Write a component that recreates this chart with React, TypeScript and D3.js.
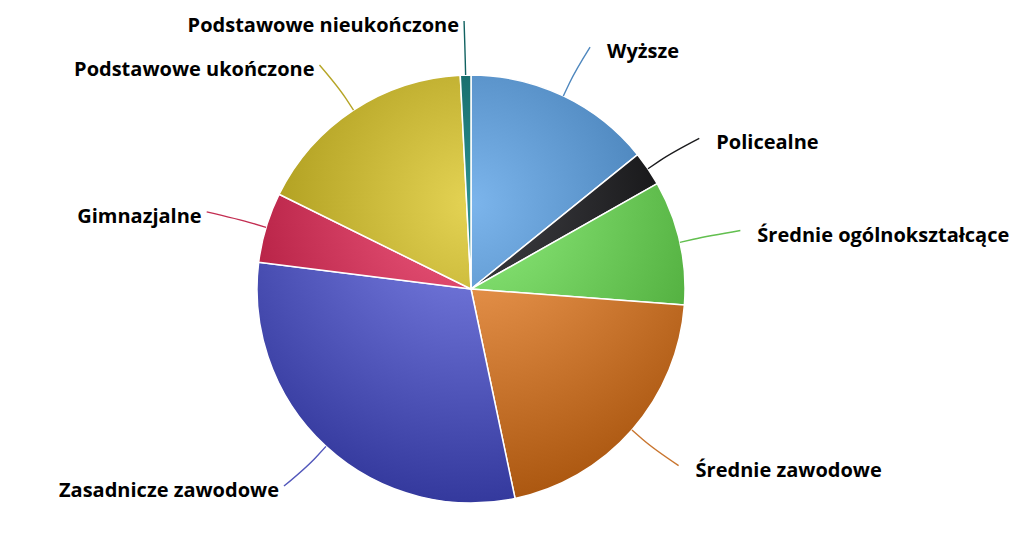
import React from "react";
import * as d3 from "d3";

const categories = [
  "Wyższe",
  "Policealne",
  "Średnie ogólnokształcące",
  "Średnie zawodowe",
  "Zasadnicze zawodowe",
  "Gimnazjalne",
  "Podstawowe ukończone",
  "Podstawowe nieukończone",
];
const shares = [14.2, 2.6, 9.4, 20.5, 30.3, 5.3, 16.9, 0.8];
const colors = [
  "#7cb5ec",
  "#434348",
  "#90ed7d",
  "#f7a35c",
  "#8085e9",
  "#f15c80",
  "#e4d354",
  "#2b908f",
];

const width = 1023;
const height = 540;
const cx = 471;
const cy = 289;
const radius = 214;

// same as Highcharts' brighten(-0.3)
const darken = (c: string) => {
  const rgb = d3.rgb(c);
  return d3.rgb(Math.max(rgb.r - 76, 0), Math.max(rgb.g - 76, 0), Math.max(rgb.b - 76, 0)).formatHex();
};

type Slice = { name: string; value: number; color: string };

const App = () => {
  const data: Slice[] = categories.map((name, i) => ({
    name,
    value: shares[i],
    color: colors[i],
  }));

  const pie = d3
    .pie<Slice>()
    .sort(null)
    .value((d) => d.value);
  const arcs = pie(data);

  const arc = d3.arc<d3.PieArcDatum<Slice>>().innerRadius(0).outerRadius(radius);

  const labelRx = radius + 62;
  const labelRy = radius + 54;

  return (
    <svg
      width={width}
      height={height}
      style={{ position: "absolute", left: 0, top: 0, background: "#fff" }}
    >
      <defs>
        {arcs.map((a, i) => (
          // gradient box is the pie's bounding square, in the group's local space
          <radialGradient
            key={i}
            id={`grad-${i}`}
            gradientUnits="userSpaceOnUse"
            cx={0}
            cy={-radius + 0.3 * 2 * radius}
            r={0.7 * 2 * radius}
          >
            <stop offset="0" stopColor={a.data.color} />
            <stop offset="1" stopColor={darken(a.data.color)} />
          </radialGradient>
        ))}
      </defs>
      <g transform={`translate(${cx},${cy})`}>
        {arcs.map((a, i) => (
          <path
            key={i}
            d={arc(a) || ""}
            fill={`url(#grad-${i})`}
            stroke="#fff"
            strokeWidth={1.5}
            strokeLinejoin="round"
          />
        ))}
      </g>
      <g>
        {arcs.map((a, i) => {
          const mid = (a.startAngle + a.endAngle) / 2;
          const s = Math.sin(mid);
          const c = Math.cos(mid);
          const right = mid < Math.PI;
          const edge = [cx + radius * s, cy - radius * c];
          const brk = [cx + (radius + 14) * s, cy - (radius + 14) * c];
          const end = [cx + labelRx * s, cy - labelRy * c];
          const path = `M${end[0]},${end[1]} C${end[0]},${end[1]} ${2 * brk[0] - edge[0]},${
            2 * brk[1] - edge[1]
          } ${brk[0]},${brk[1]} L${edge[0]},${edge[1]}`;
          const connector = d3.interpolateRgb(a.data.color, darken(a.data.color))(0.6);
          return (
            <g key={i}>
              <path d={path} fill="none" stroke={connector} strokeWidth={1.4} />
              <text
                x={right ? end[0] + 17 : end[0] - 5}
                y={end[1] + 11}
                textAnchor={right ? "start" : "end"}
                fontFamily="'Open Sans', sans-serif"
                fontWeight={700}
                fontSize={20}
                fill="#000"
              >
                {a.data.name}
              </text>
            </g>
          );
        })}
      </g>
    </svg>
  );
};

export default App;
